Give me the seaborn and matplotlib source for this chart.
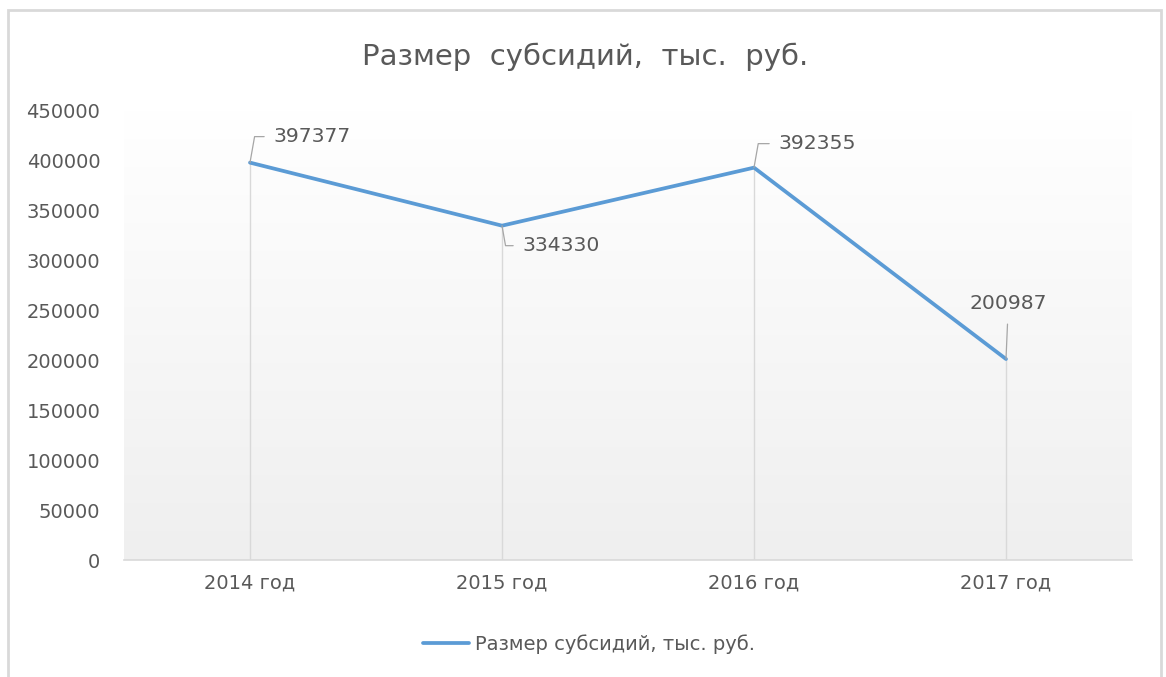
import seaborn as sns
import matplotlib.pyplot as plt
import numpy as np
from matplotlib.patches import Rectangle

sns.set_theme(style="white")
plt.rcParams['font.family'] = ['DejaVu Sans']

years = ['2014 год', '2015 год', '2016 год', '2017 год']
values = [397377, 334330, 392355, 200987]
series_name = 'Размер субсидий, тыс. руб.'

# where each data label sits relative to its point (pixels)
label_offsets = [(23, 26), (20, -20), (24, 24), (2, 56)]

text_col = '#595959'
line_col = '#5B9BD5'

fig = plt.figure(figsize=(11.66, 6.77), dpi=100)
fig.patch.set_facecolor('white')
fig.patches.append(Rectangle((8 / 1166, -0.05), (1161 - 8) / 1166, 1.05 - 10 / 677,
                             transform=fig.transFigure, fill=False,
                             edgecolor='#d9d9d9', lw=2))

ax = fig.add_axes([124 / 1166, 1 - 560 / 677, (1132 - 124) / 1166, (560 - 110) / 677])

# gradient plot area
grad = np.linspace(1, 0, 256).reshape(-1, 1)
ax.imshow(grad, extent=[0, 1, 0, 1], transform=ax.transAxes, aspect='auto',
          cmap=sns.blend_palette(['#efefef', '#ffffff'], as_cmap=True),
          vmin=0, vmax=1, zorder=0)

sns.lineplot(x=years, y=values, ax=ax, color=line_col, lw=2.7,
             label=series_name, sort=False, zorder=3)

xs = np.arange(len(years))
ax.vlines(xs, 0, values, color='#d9d9d9', lw=1, zorder=2)

ax.set_xlim(-0.5, 3.5)
ax.set_ylim(0, 450000)
ax.set_yticks(np.arange(0, 450001, 50000))
ax.set_yticklabels([str(v) for v in range(0, 450001, 50000)])
ax.tick_params(axis='y', length=0, pad=17, labelsize=14, labelcolor=text_col)
ax.tick_params(axis='x', length=0, pad=10, labelsize=14, labelcolor=text_col)
ax.set_xlabel('')
ax.set_ylabel('')
for s in ['top', 'right', 'left']:
    ax.spines[s].set_visible(False)
ax.spines['bottom'].set_color('#d9d9d9')
ax.spines['bottom'].set_linewidth(1.2)
ax.grid(False)

for i, (v, off) in enumerate(zip(values, label_offsets)):
    if i == 3:
        ax.annotate(str(v), xy=(i, v), xytext=off, textcoords='offset pixels',
                    ha='center', va='center', fontsize=14.7, color=text_col,
                    arrowprops=dict(arrowstyle='-', color='#a6a6a6', lw=0.9,
                                    relpos=(0.5, 0), shrinkA=6, shrinkB=0))
    else:
        angB = 80 if off[1] > 0 else -80
        ax.annotate(str(v), xy=(i, v), xytext=off, textcoords='offset pixels',
                    ha='left', va='center', fontsize=14.7, color=text_col,
                    arrowprops=dict(arrowstyle='-', color='#a6a6a6', lw=0.9,
                                    relpos=(0, 0.5), shrinkA=4, shrinkB=0,
                                    connectionstyle='angle,angleA=180,angleB=%d,rad=0' % angB))

ax.get_legend().remove()
handles, labels = ax.get_legend_handles_labels()
fig.legend(handles, labels, loc='center', bbox_to_anchor=(589 / 1166, 1 - 644 / 677),
           frameon=False, fontsize=14, labelcolor=text_col, handlelength=2.4,
           handletextpad=0.3)

fig.text(585 / 1166, 1 - 57 / 677, 'Размер  субсидий,  тыс.  руб.', ha='center', va='center',
         fontsize=21, color=text_col)

fig.savefig('out.png', dpi=100)
